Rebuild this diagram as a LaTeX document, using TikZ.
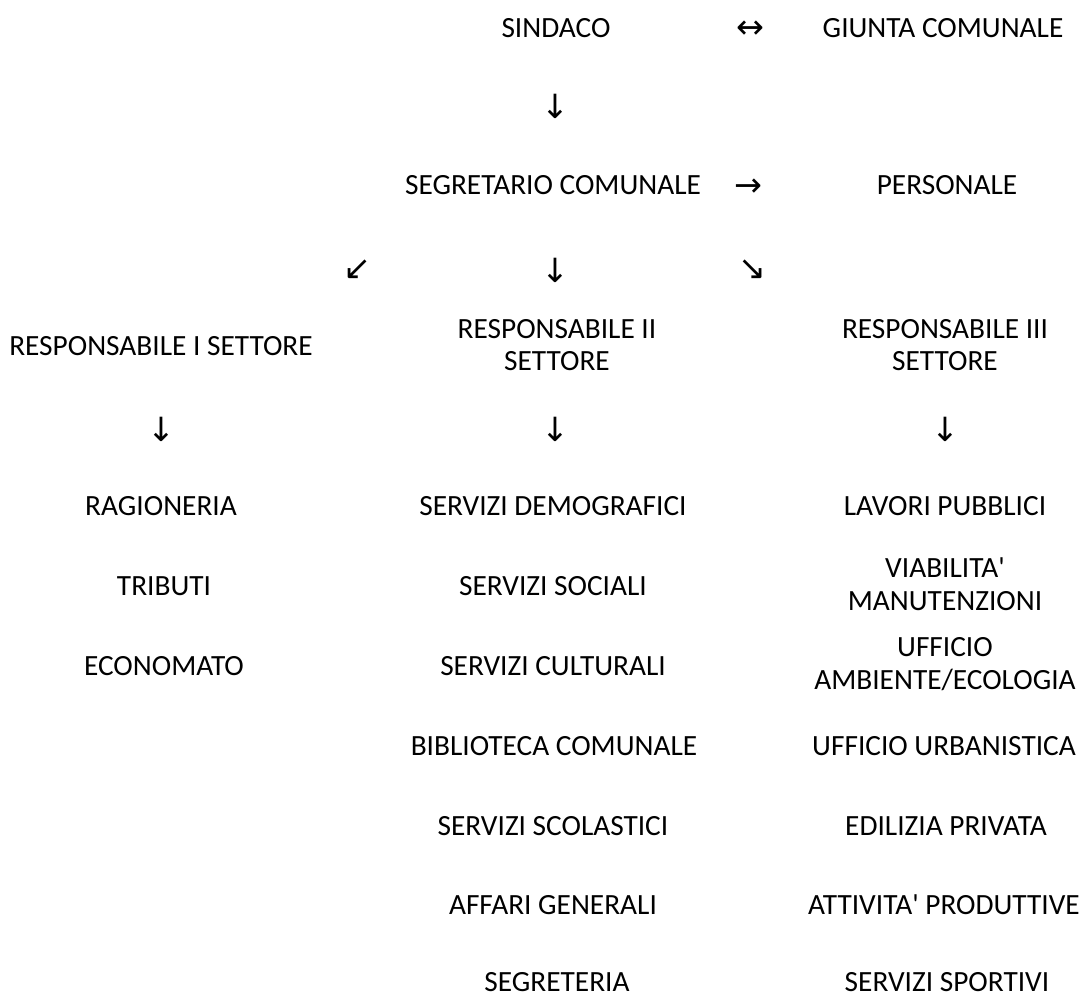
\documentclass[tikz,border=0pt]{standalone}
\usepackage{fontspec}
\setmainfont{Carlito}[Ligatures=TeXOff]
\newfontfamily\arrowfont{DejaVu Sans}
\usepackage{tikz}

\tikzset{
  voce/.style={font=\fontsize{22}{24.5}\selectfont, align=center, inner sep=0pt},
  freccia/.style={font=\arrowfont\fontsize{25}{28}\selectfont, inner sep=0pt}
}

\begin{document}
\begin{tikzpicture}[x=0.75pt,y=-0.75pt]
  \useasboundingbox (0,0) rectangle (1081,998);

  % vertice
  \node[voce] (sindaco) at (556,28) {SINDACO};
  \node[freccia] (f1) at (750,30) {↔};
  \node[voce] (giunta) at (943,28) {GIUNTA COMUNALE};
  \node[freccia] (f2) at (555,106) {↓};
  \node[voce] (segretario) at (553,185) {SEGRETARIO COMUNALE};
  \node[freccia] (f3) at (748,188) {→};
  \node[voce] (personale) at (947,185) {PERSONALE};

  % settori
  \node[freccia] (f4) at (357,270) {↙};
  \node[freccia] (f5) at (555,270) {↓};
  \node[freccia] (f6) at (752,270) {↘};
  \node[voce] (resp1) at (161,346) {RESPONSABILE I SETTORE};
  \node[voce] (resp2) at (557,345) {RESPONSABILE II\\SETTORE};
  \node[voce] (resp3) at (945,345) {RESPONSABILE III\\SETTORE};
  \node[freccia] (f7) at (161,429) {↓};
  \node[freccia] (f8) at (555,429) {↓};
  \node[freccia] (f9) at (945,429) {↓};

  % uffici I settore
  \node[voce] (rag) at (161,506) {RAGIONERIA};
  \node[voce] (trib) at (164,586) {TRIBUTI};
  \node[voce] (econ) at (164,666) {ECONOMATO};

  % uffici II settore
  \node[voce] (demo) at (553,506) {SERVIZI DEMOGRAFICI};
  \node[voce] (soc) at (553,586) {SERVIZI SOCIALI};
  \node[voce] (cult) at (553,666) {SERVIZI CULTURALI};
  \node[voce] (bibl) at (554,746) {BIBLIOTECA COMUNALE};
  \node[voce] (scol) at (553,826) {SERVIZI SCOLASTICI};
  \node[voce] (aff) at (553,905) {AFFARI GENERALI};
  \node[voce] (segr) at (557,982) {SEGRETERIA};

  % uffici III settore
  \node[voce] (lav) at (945,506) {LAVORI PUBBLICI};
  \node[voce] (viab) at (945,584) {VIABILITA'\\MANUTENZIONI};
  \node[voce] (amb) at (945,664) {UFFICIO\\AMBIENTE/ECOLOGIA};
  \node[voce] (urb) at (944,746) {UFFICIO URBANISTICA};
  \node[voce] (edil) at (946,826) {EDILIZIA PRIVATA};
  \node[voce] (att) at (944,905) {ATTIVITA' PRODUTTIVE};
  \node[voce] (sport) at (947,982) {SERVIZI SPORTIVI};
\end{tikzpicture}
\end{document}
